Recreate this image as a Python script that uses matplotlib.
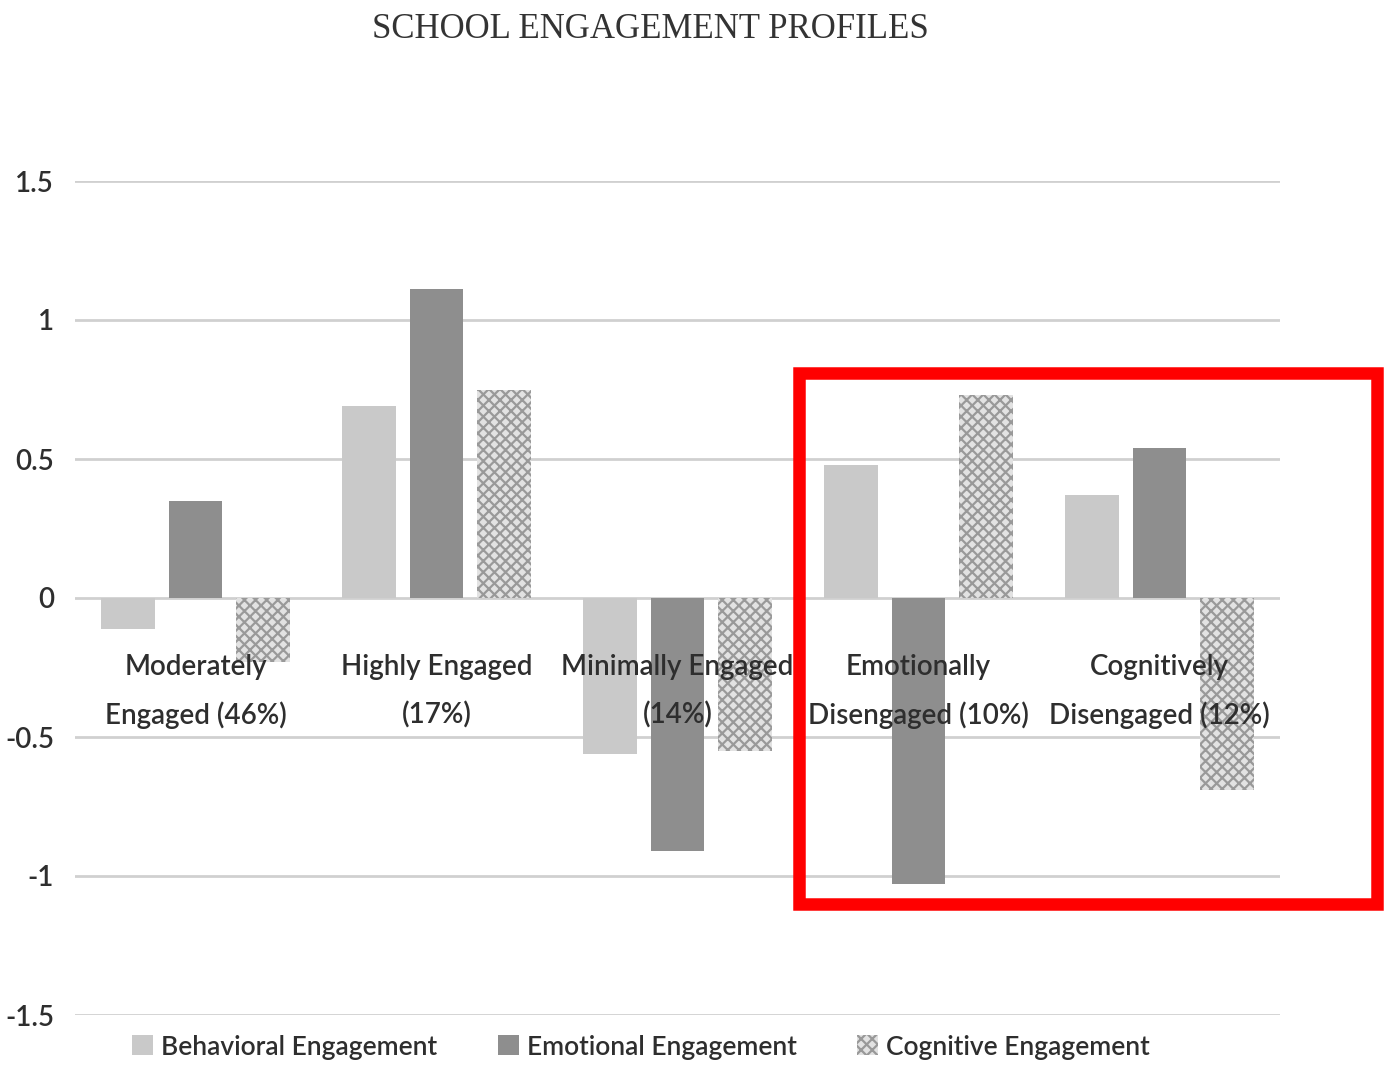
import matplotlib.pyplot as plt
import numpy as np
from matplotlib.patches import Patch, Rectangle

categories = ["Moderately\nEngaged (46%)", "Highly Engaged\n(17%)", "Minimally Engaged\n(14%)",
              "Emotionally\nDisengaged (10%)", "Cognitively\nDisengaged (12%)"]
behavioral = [-0.11, 0.69, -0.56, 0.48, 0.37]
emotional = [0.35, 1.11, -0.91, -1.03, 0.54]
cognitive = [-0.23, 0.75, -0.55, 0.73, -0.69]
series_names = ["Behavioral Engagement", "Emotional Engagement", "Cognitive Engagement"]
y_ticks = [-1.5, -1, -0.5, 0, 0.5, 1, 1.5]
y_tick_labels = ["-1.5", "-1", "-0.5", "0", "0.5", "1", "1.5"]

sans = ['Lato', 'DejaVu Sans']
text_color = '#2e2e2e'

fig = plt.figure(figsize=(13.9, 10.66), dpi=100)
ax = fig.add_axes([75 / 1390, 1 - 1015 / 1066, 1205 / 1390, 834 / 1066])

x = np.arange(len(categories))
width = 0.224
offset = 0.282

ax.bar(x - offset, behavioral, width, color='#c9c9c9', linewidth=0, zorder=2)
ax.bar(x, emotional, width, color='#8e8e8e', linewidth=0, zorder=2)
plt.rcParams['hatch.linewidth'] = 1.6
ax.bar(x + offset, cognitive, width, color='#e2e2e2', edgecolor='#999999',
       hatch='xxx', linewidth=0, zorder=2)

ax.set_xlim(-0.5, len(categories) - 0.5)
ax.set_ylim(-1.5, 1.5)
ax.set_yticks(y_ticks)
ax.set_yticklabels(y_tick_labels, family=sans, fontsize=20, color=text_color, fontweight='semibold')
ax.tick_params(axis='y', length=0, pad=15)
ax.set_xticks([])
for s in ax.spines.values():
    s.set_visible(False)
for t in y_ticks:
    ax.axhline(t, color='#d0d0d0', linewidth=2, zorder=1)

for i, c in enumerate(categories):
    ax.text(i, -0.335, c, ha='center', va='center', family=sans, fontsize=20,
            fontweight='semibold', color=text_color, linespacing=1.95, zorder=3)

fig.text(650 / 1390, 1 - 29 / 1066, "SCHOOL ENGAGEMENT PROFILES", ha='center', va='center',
         family=['Liberation Serif', 'DejaVu Serif'], fontsize=25, color='#333333')

handles = [Patch(facecolor='#c9c9c9', linewidth=0),
           Patch(facecolor='#8e8e8e', linewidth=0),
           Patch(facecolor='#e2e2e2', edgecolor='#999999', hatch='xxx', linewidth=0)]
fig.legend(handles, series_names, loc='center', bbox_to_anchor=(641 / 1390, 1 - 1047 / 1066),
           ncol=3, frameon=False, handlelength=0.8, handleheight=0.8, handletextpad=0.3,
           columnspacing=2.3, prop={'family': sans, 'size': 19, 'weight': 'semibold'},
           labelcolor=text_color)

# red highlight box
fig.patches.append(Rectangle((799 / 1390, 1 - 904 / 1066), 578 / 1390, 531 / 1066,
                             transform=fig.transFigure, fill=False, edgecolor='#ff0000',
                             linewidth=9, zorder=10))

fig.savefig("out.png", dpi=100)
